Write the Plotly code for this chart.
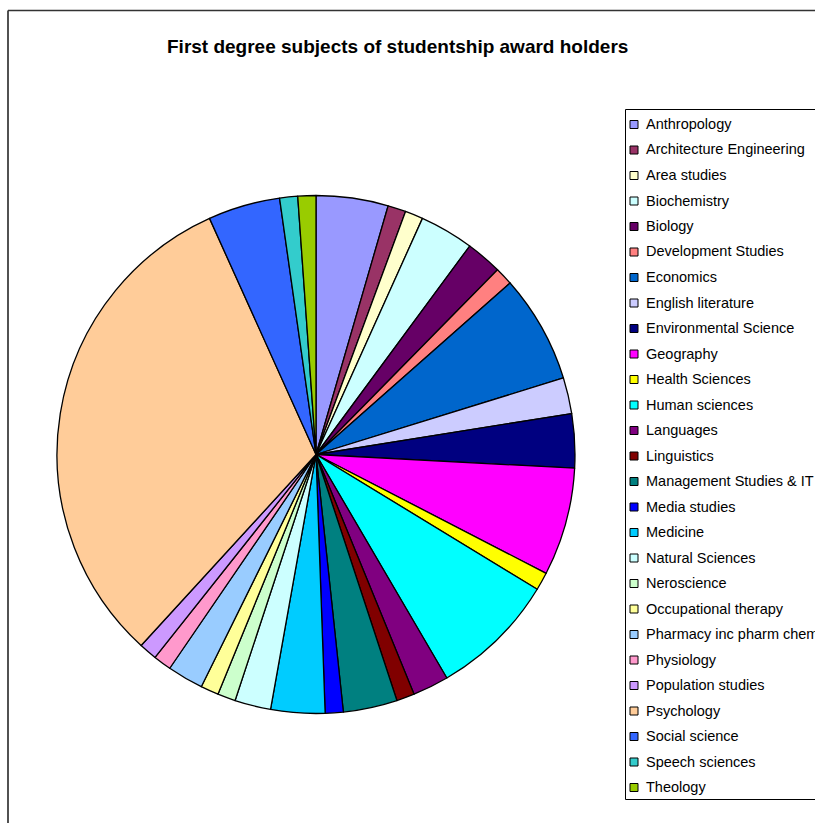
import plotly.graph_objects as go

# First degree subjects of studentship award holders (number of award holders)
subjects = [
    "Anthropology", "Architecture Engineering", "Area studies", "Biochemistry",
    "Biology", "Development Studies", "Economics", "English literature",
    "Environmental Science", "Geography", "Health Sciences", "Human sciences",
    "Languages", "Linguistics", "Management Studies & IT", "Media studies",
    "Medicine", "Natural Sciences", "Neroscience", "Occupational therapy",
    "Pharmacy inc pharm chem", "Physiology", "Population studies", "Psychology",
    "Social science", "Speech sciences", "Theology",
]
counts = [4, 1, 1, 3, 2, 1, 6, 2, 3, 6, 1, 7, 2, 1, 3, 1, 3, 2, 1, 1, 2, 1, 1, 28, 4, 1, 1]
colors = [
    "#9999FF", "#993366", "#FFFFCC", "#CCFFFF", "#660066", "#FF8080", "#0066CC",
    "#CCCCFF", "#000080", "#FF00FF", "#FFFF00", "#00FFFF", "#800080", "#800000",
    "#008080", "#0000FF", "#00CCFF", "#CCFFFF", "#CCFFCC", "#FFFF99", "#99CCFF",
    "#FF99CC", "#CC99FF", "#FFCC99", "#3366FF", "#33CCCC", "#99CC00",
]
title_text = "First degree subjects of studentship award holders"

W, H = 815, 823
FONT = "Liberation Sans, Arial, sans-serif"


def px(x):
    return x / W


def py(y):
    return 1 - y / H


# pie placement: centre (316, 454.5), radius 259 px
cx, cy, r = 316, 454.5, 259

fig = go.Figure(
    go.Pie(
        labels=subjects,
        values=counts,
        sort=False,
        direction="clockwise",
        rotation=0,
        textinfo="none",
        hoverinfo="label+value+percent",
        marker=dict(colors=colors, line=dict(color="#000000", width=1.3)),
        domain=dict(x=[px(cx - r), px(cx + r)], y=[py(cy + r), py(cy - r)]),
        showlegend=False,
    )
)

shapes = [
    # chart frame (top and left edges)
    dict(type="line", xref="paper", yref="paper", x0=px(8), x1=px(W + 5),
         y0=py(10.5), y1=py(10.5), line=dict(color="#333333", width=1.7)),
    dict(type="line", xref="paper", yref="paper", x0=px(8), x1=px(8),
         y0=py(10.5), y1=py(H + 5), line=dict(color="#333333", width=1.7)),
    # legend box
    dict(type="rect", xref="paper", yref="paper", x0=px(625.5), x1=px(W + 20),
         y0=py(109.5), y1=py(799.5), line=dict(color="#000000", width=1),
         fillcolor="rgba(0,0,0,0)"),
]

annotations = [
    dict(text="<b>" + title_text + "</b>", x=px(397), y=py(47), xref="paper",
         yref="paper", xanchor="center", yanchor="middle", showarrow=False,
         font=dict(family=FONT, size=19, color="#000000")),
]

# legend entries: swatch + label
for i, (name, col) in enumerate(zip(subjects, colors)):
    yc = 124 + 25.5 * i
    shapes.append(dict(type="rect", xref="paper", yref="paper",
                       x0=px(630), x1=px(638), y0=py(yc + 4.5), y1=py(yc - 3.5),
                       fillcolor=col, line=dict(color="#000000", width=1)))
    annotations.append(dict(text=name, x=px(644), y=py(yc), xref="paper",
                            yref="paper", xanchor="left", yanchor="middle",
                            showarrow=False,
                            font=dict(family=FONT, size=14.5, color="#000000")))

fig.update_layout(
    width=W,
    height=H,
    margin=dict(l=0, r=0, t=0, b=0),
    paper_bgcolor="#FFFFFF",
    plot_bgcolor="#FFFFFF",
    showlegend=False,
    shapes=shapes,
    annotations=annotations,
)

fig.write_html("out.html")
